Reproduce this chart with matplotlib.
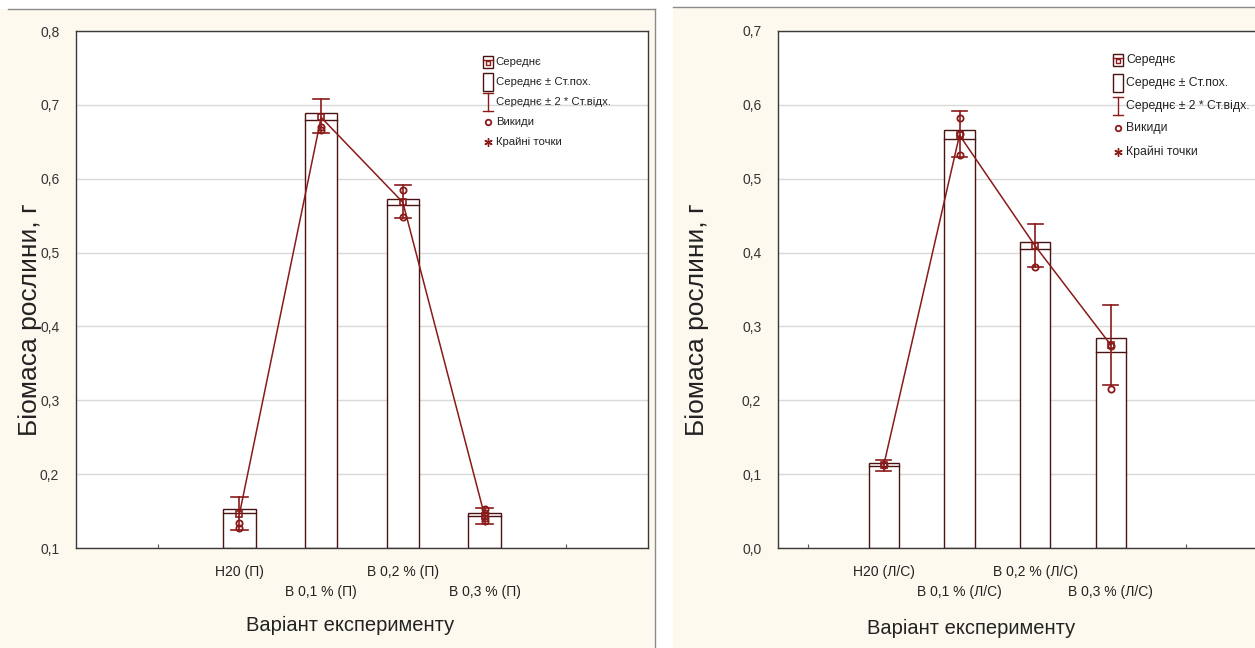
import matplotlib
matplotlib.use("Agg")
import matplotlib.pyplot as plt
from matplotlib import font_manager
from matplotlib.patches import Rectangle
from matplotlib.lines import Line2D
from matplotlib.ticker import FuncFormatter

# ---- data ----
pos = [1, 2, 3, 4]

left_labels = ["H20 (П)", "B 0,1 % (П)", "B 0,2 % (П)", "B 0,3 % (П)"]
left_mean = [0.146, 0.683, 0.568, 0.144]
left_se_hi = [0.153, 0.689, 0.572, 0.147]
left_se_lo = [0.148, 0.680, 0.565, 0.143]
left_sd_hi = [0.169, 0.708, 0.592, 0.154]
left_sd_lo = [0.124, 0.662, 0.547, 0.133]
left_out = [[0.134, 0.127], [0.670, 0.666], [0.585, 0.548], [0.153, 0.147, 0.140, 0.136]]

right_labels = ["H20 (Л/С)", "B 0,1 % (Л/С)", "B 0,2 % (Л/С)", "B 0,3 % (Л/С)"]
right_mean = [0.113, 0.559, 0.409, 0.275]
right_se_hi = [0.115, 0.566, 0.414, 0.284]
right_se_lo = [0.111, 0.554, 0.405, 0.266]
right_sd_hi = [0.119, 0.592, 0.439, 0.329]
right_sd_lo = [0.104, 0.529, 0.380, 0.221]
right_out = [[0.112], [0.582, 0.560, 0.532], [0.381], [0.274, 0.215]]

legend_items = ["Середнє", "Середнє ± Ст.пох.", "Середнє ± 2 * Ст.відх.", "Викиди", "Крайні точки"]

# ---- style ----
names = {f.name for f in font_manager.fontManager.ttflist}
narrow = "Liberation Sans Narrow" if "Liberation Sans Narrow" in names else "Liberation Sans"
plt.rcParams["font.family"] = ["Liberation Sans", "DejaVu Sans"]

CREAM = "#FDF9EE"
RED = "#8B1A1A"
BOX = "#4A1414"
W, H = 1255, 648

fig = plt.figure(figsize=(W / 100, H / 100), dpi=100, facecolor="white")

# panel backgrounds (two screenshots side by side)
fig.patches.append(Rectangle((0, 0), 655 / W, (H - 9) / H, transform=fig.transFigure,
                             facecolor=CREAM, edgecolor="none", zorder=-5))
fig.patches.append(Rectangle((673 / W, 0), (W - 673) / W, (H - 7) / H, transform=fig.transFigure,
                             facecolor=CREAM, edgecolor="none", zorder=-5))
fig.lines.append(Line2D([8 / W, 655 / W], [(H - 9) / H] * 2, transform=fig.transFigure, color="#8a8a8a", lw=1))
fig.lines.append(Line2D([655 / W, 655 / W], [0, (H - 9) / H], transform=fig.transFigure, color="#8a8a8a", lw=1))
fig.lines.append(Line2D([673 / W, 1], [(H - 7) / H] * 2, transform=fig.transFigure, color="#8a8a8a", lw=1))


def panel(rect, xlim, ylim, yticks, labels, mean, se_hi, se_lo, sd_hi, sd_lo, outs,
          leg_x, leg_ys, leg_fs):
    ax = fig.add_axes([rect[0] / W, (H - rect[3]) / H, (rect[2] - rect[0]) / W, (rect[3] - rect[1]) / H])
    ax.set_facecolor("white")
    ax.set_xlim(*xlim)
    ax.set_ylim(*ylim)
    ax.set_yticks(yticks)
    ax.yaxis.set_major_formatter(FuncFormatter(lambda v, p: f"{v:.1f}".replace(".", ",")))
    ax.grid(axis="y", color="#d9d9d9", lw=1)
    ax.set_axisbelow(True)
    for s in ax.spines.values():
        s.set_color("#3a3a3a")
        s.set_linewidth(1)
    ax.tick_params(axis="y", length=0, pad=12, labelsize=10, labelcolor="#333333")
    for t in ax.get_yticklabels():
        t.set_family([narrow, "DejaVu Sans"])
    ax.set_xticks([0, 1, 2, 3, 4, 5])
    ax.set_xticklabels([])
    ax.tick_params(axis="x", direction="in", length=3, color="#555555")
    ybase = ylim[0]
    for i, p in enumerate(pos):
        ax.bar(p, se_hi[i] - ybase, bottom=ybase, width=0.4, facecolor="white",
               edgecolor=BOX, lw=1, zorder=2)
        ax.plot([p - 0.2, p + 0.2], [se_lo[i]] * 2, color=BOX, lw=1, zorder=3)
        ax.plot([p, p], [sd_lo[i], sd_hi[i]], color=RED, lw=1.2, zorder=4)
        ax.plot([p - 0.1, p + 0.1], [sd_hi[i]] * 2, color=RED, lw=1.2, zorder=4)
        ax.plot([p - 0.1, p + 0.1], [sd_lo[i]] * 2, color=RED, lw=1.2, zorder=4)
        ax.plot([p] * len(outs[i]), outs[i], "o", ms=4.5, mfc="none", mec=RED, mew=1.3, zorder=5)
        # staggered category labels
        yl = -0.047 if i % 2 == 0 else -0.086
        ax.text(p, yl, labels[i], transform=ax.get_xaxis_transform(), ha="center", va="center",
                fontsize=10, color="#222222", family=[narrow, "DejaVu Sans"])
    ax.plot(pos, mean, color=RED, lw=1.1, zorder=5)
    ax.plot(pos, mean, "s", ms=5, mfc="none", mec=RED, mew=1.2, zorder=6)

    # legend drawn by hand
    aw = rect[2] - rect[0]
    ah = rect[3] - rect[1]
    tr = ax.transAxes
    fx = lambda px: px / aw
    fy = lambda px: px / ah
    y0 = leg_ys[0]
    ax.add_patch(Rectangle((leg_x - fx(5), y0 - fy(6)), fx(10), fy(12), transform=tr,
                           facecolor="none", edgecolor=BOX, lw=1, zorder=7))
    ax.plot([leg_x - fx(5), leg_x + fx(5)], [y0 + fy(2)] * 2, transform=tr, color=RED, lw=1, zorder=7)
    ax.plot([leg_x], [y0 - fy(1)], "s", ms=3.5, mfc="none", mec=RED, mew=1, transform=tr, zorder=7)
    y1 = leg_ys[1]
    ax.add_patch(Rectangle((leg_x - fx(5), y1 - fy(9)), fx(10), fy(18), transform=tr,
                           facecolor="none", edgecolor=BOX, lw=1, zorder=7))
    y2 = leg_ys[2]
    ax.plot([leg_x, leg_x], [y2 - fy(9), y2 + fy(9)], transform=tr, color=RED, lw=1, zorder=7)
    for yy in (y2 - fy(9), y2 + fy(9)):
        ax.plot([leg_x - fx(5), leg_x + fx(5)], [yy, yy], transform=tr, color=RED, lw=1, zorder=7)
    ax.plot([leg_x], [leg_ys[3]], "o", ms=4, mfc="none", mec=RED, mew=1.3, transform=tr, zorder=7)
    ax.plot([leg_x], [leg_ys[4]], marker=(6, 2, 0), ms=6, color=RED, mew=1, transform=tr, zorder=7)
    for txt, yy in zip(legend_items, leg_ys):
        ax.text(leg_x + fx(8), yy, txt, transform=tr, ha="left", va="center", fontsize=leg_fs,
                color="#222222", family=[narrow, "DejaVu Sans"], zorder=8)
    return ax


ax1 = panel((76, 31, 648, 548), (-1, 6), (0.1, 0.8), [0.1, 0.2, 0.3, 0.4, 0.5, 0.6, 0.7, 0.8],
            left_labels, left_mean, left_se_hi, left_se_lo, left_sd_hi, left_sd_lo, left_out,
            0.72, [0.940, 0.901, 0.863, 0.824, 0.785], 8.2)
ax2 = panel((778, 31, 1262, 548), (-0.4, 6.0), (0.0, 0.7), [0.0, 0.1, 0.2, 0.3, 0.4, 0.5, 0.6, 0.7],
            right_labels, right_mean, right_se_hi, right_se_lo, right_sd_hi, right_sd_lo, right_out,
            0.703, [0.944, 0.899, 0.855, 0.812, 0.766], 8.8)

fig.text(350 / W, 1 - 625 / H, "Варіант експерименту", ha="center", va="center", fontsize=14.5, color="#222222")
fig.text(971 / W, 1 - 628 / H, "Варіант експерименту", ha="center", va="center", fontsize=14.5, color="#222222")
fig.text(30 / W, 1 - 320 / H, "Біомаса рослини, г", ha="center", va="center", rotation=90, fontsize=19, color="#222222")
fig.text(697 / W, 1 - 320 / H, "Біомаса рослини, г", ha="center", va="center", rotation=90, fontsize=19, color="#222222")

fig.savefig("out.png", dpi=100, facecolor="white")
